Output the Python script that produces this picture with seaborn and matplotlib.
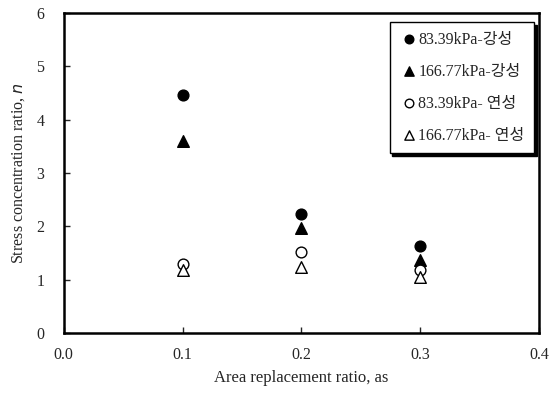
import pandas as pd
import matplotlib
matplotlib.use("Agg")
import matplotlib.pyplot as plt
import seaborn as sns

# data
x_vals = [0.1, 0.2, 0.3]
rigid_83 = [4.46, 2.23, 1.63]
rigid_166 = [3.60, 1.97, 1.37]
soft_83 = [1.29, 1.52, 1.18]
soft_166 = [1.18, 1.24, 1.05]
labels = ["83.39kPa-강성", "166.77kPa-강성", "83.39kPa- 연성", "166.77kPa- 연성"]
x_ticks = [0.0, 0.1, 0.2, 0.3, 0.4]
y_ticks = [0, 1, 2, 3, 4, 5, 6]

series = [rigid_83, rigid_166, soft_83, soft_166]
df = pd.concat([pd.DataFrame({"as": x_vals, "n": s, "series": lab})
                for s, lab in zip(series, labels)], ignore_index=True)

sns.set_style("white")
plt.rcParams["font.family"] = ["Liberation Serif", "Noto Sans CJK KR"]

fig = plt.figure(figsize=(5.5, 3.96), dpi=100)
ax = fig.add_axes([0.116, 0.159, 0.864, 0.808])

styles = {
    labels[0]: dict(marker="o", facecolor="black", s=60),
    labels[1]: dict(marker="^", facecolor="black", s=70),
    labels[2]: dict(marker="o", facecolor="white", s=60),
    labels[3]: dict(marker="^", facecolor="white", s=70),
}
for lab in labels:
    st = styles[lab]
    sns.scatterplot(data=df[df["series"] == lab], x="as", y="n", ax=ax,
                    marker=st["marker"], color=st["facecolor"],
                    edgecolor="black", linewidth=1.0, s=st["s"], label=lab,
                    zorder=3)

ax.set_xlim(0, 0.4)
ax.set_ylim(0, 6)
ax.set_xticks(x_ticks)
ax.set_yticks(y_ticks)
ax.set_xticklabels([f"{t:.1f}" for t in x_ticks])
ax.tick_params(direction="in", length=4, width=1, labelsize=11.5,
               bottom=True, left=True)
ax.tick_params(axis="y", pad=14)
ax.tick_params(axis="x", pad=10)
for sp in ax.spines.values():
    sp.set_linewidth(1.8)
    sp.set_color("black")

ax.set_xlabel("Area replacement ratio, as", fontsize=12, labelpad=5)
ax.set_ylabel("Stress concentration ratio, $n$", fontsize=11.5, labelpad=7)

leg = ax.legend(loc="upper right", bbox_to_anchor=(0.99, 0.972), frameon=True,
                fancybox=False, shadow={"color": "black", "alpha": 1},
                fontsize=11.5, handletextpad=0.0, labelspacing=1.0,
                borderpad=0.6, borderaxespad=0, handlelength=1.2,
                markerscale=0.8)
leg.get_frame().set_edgecolor("black")
leg.get_frame().set_linewidth(1.0)

fig.savefig("out.png", dpi=100)
